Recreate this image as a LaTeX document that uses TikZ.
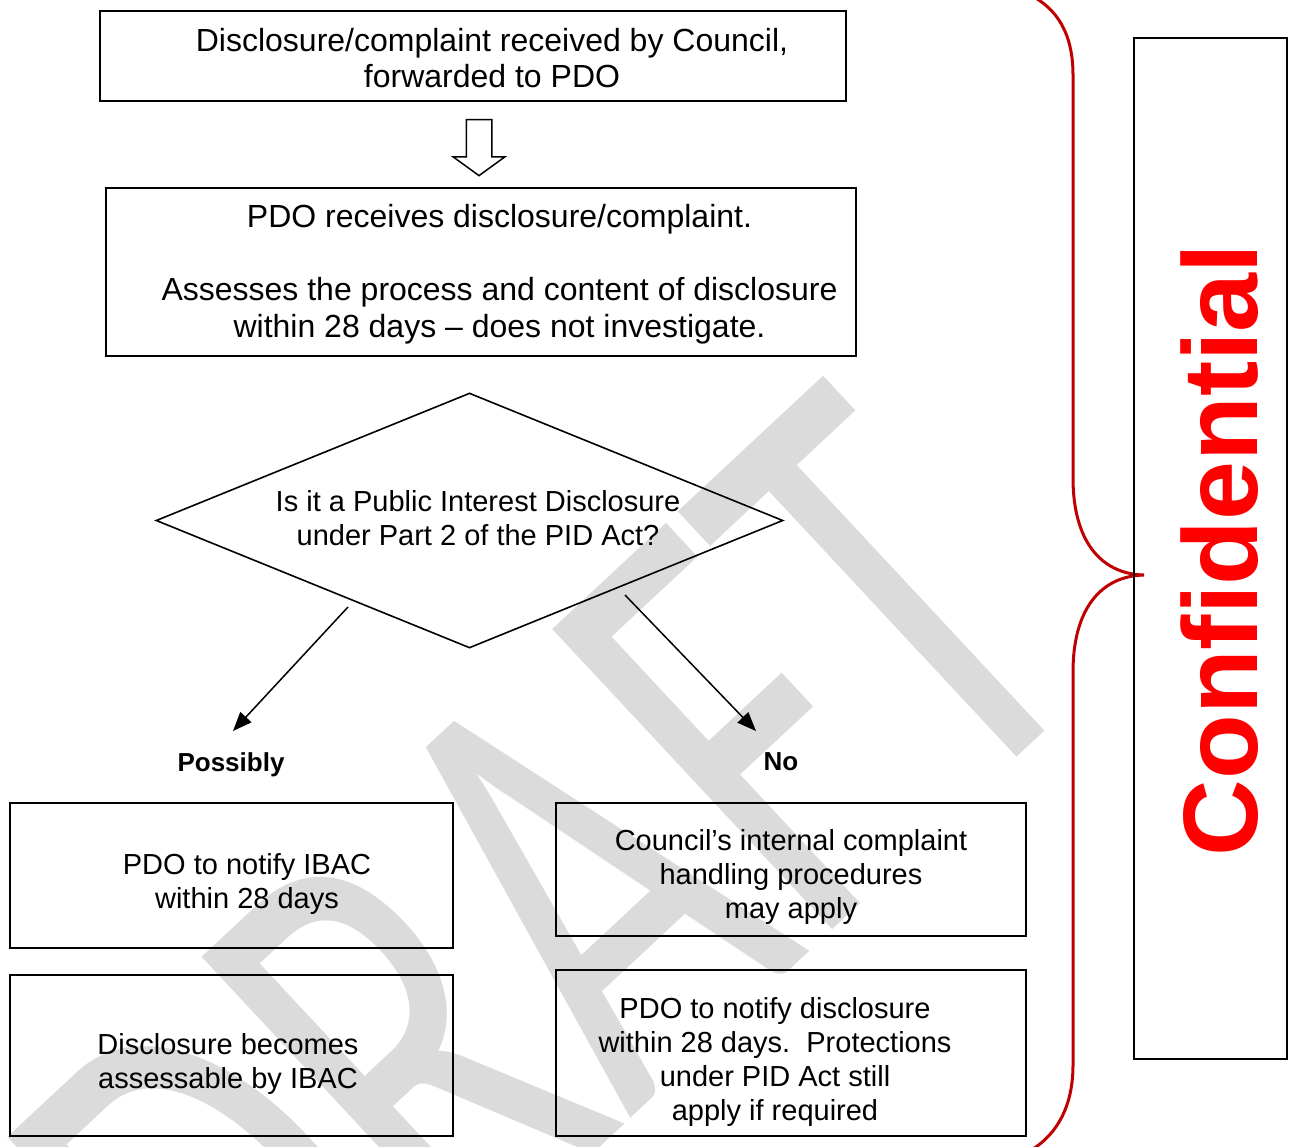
\documentclass[tikz,border=0pt]{standalone}
\usepackage{fontspec}
\setmainfont{Liberation Sans}
\newfontfamily\wmfont{Carlito}
\usepackage{graphicx}
\usetikzlibrary{shapes.geometric,shapes.arrows,arrows.meta}
\definecolor{wmgray}{RGB}{219,219,219}
\definecolor{bracered}{RGB}{192,0,0}
\definecolor{confred}{RGB}{255,0,0}
\begin{document}
\begin{tikzpicture}[x=1pt,y=-1pt,
  box/.style={draw=black,line width=2pt,inner sep=0pt},
  bigtxt/.style={align=center,font=\fontsize{32}{36.5}\selectfont,inner sep=0pt},
  smtxt/.style={align=center,font=\fontsize{29}{34.3}\selectfont,inner sep=0pt},
  lbl/.style={font=\fontsize{26}{30}\selectfont\bfseries,inner sep=0pt},
  conn/.style={line width=1.5pt,-{Triangle[length=19pt,width=15pt]}}]
\useasboundingbox (0,0) rectangle (1289,1146);

% watermark
\node[rotate=43,anchor=base east,inner sep=0pt,text=wmgray,
      font=\wmfont\fontsize{640}{640}\selectfont] (wmk) at (1108,673)
      {\scalebox{0.67}[1]{DRAFT}};

% boxes
\node[box,minimum width=746pt,minimum height=90pt] (b1) at (473,56) {};
\node[bigtxt] (t1) at (492,58) {Disclosure/complaint received by Council,\\forwarded to PDO};

\node[single arrow,draw,line width=1.5pt,rotate=-90,inner xsep=0pt,inner ysep=12pt,
      minimum height=56pt,minimum width=50pt,single arrow head extend=13pt,
      single arrow tip angle=108] (down) at (479,143) {};

\node[box,minimum width=750pt,minimum height=168pt] (b2) at (481,272) {};
\node[bigtxt] (t2) at (499.5,274) {PDO receives disclosure/complaint.\\[36.5pt]Assesses the process and content of disclosure\\within 28 days -- does not investigate.};

\node[diamond,draw,line width=1.6pt,inner sep=0pt,minimum width=627pt,minimum height=255pt] (dia) at (469.5,520.5) {};
\node[smtxt] (dt) at (478,518) {Is it a Public Interest Disclosure\\under Part 2 of the PID Act?};

\coordinate (s1) at (348,607);
\coordinate (e1) at (233,731);
\coordinate (s2) at (625,595);
\coordinate (e2) at (756,731);
\draw[conn] (s1) -- (e1);
\draw[conn] (s2) -- (e2);

\node[lbl] (poss) at (231,765) {Possibly};
\node[lbl] (no) at (781,762) {No};

\node[box,minimum width=443pt,minimum height=145pt] (b3) at (231.5,875.5) {};
\node[smtxt] (t3) at (247,884) {PDO to notify IBAC\\within 28 days};

\node[box,minimum width=470pt,minimum height=133pt] (b4) at (791,869.5) {};
\node[smtxt] (t4) at (791,877) {Council’s internal complaint\\handling procedures\\may apply};

\node[box,minimum width=443pt,minimum height=161pt] (b5) at (231.5,1055.5) {};
\node[smtxt] (t5) at (228,1064) {Disclosure becomes\\assessable by IBAC};

\node[box,minimum width=470pt,minimum height=166pt] (b6) at (791,1053) {};
\node[smtxt] (t6) at (775,1062) {PDO to notify disclosure\\within 28 days.\ \ Protections\\under PID Act still\\apply if required};

% brace
\draw[bracered,line width=3pt] (1028,-6) .. controls (1058,8) and (1073,35) .. (1073,75)
  -- (1073,478) .. controls (1073,540) and (1100,574) .. (1144,575)
  .. controls (1100,576) and (1073,610) .. (1073,672)
  -- (1073,1065) .. controls (1073,1105) and (1058,1135) .. (1028,1152);

% confidential box
\node[draw,line width=1.3pt,inner sep=0pt,minimum width=153pt,minimum height=1021pt] (cbox) at (1210.5,548.5) {};
\node[rotate=90,anchor=base,inner sep=0pt,text=confred,font=\fontsize{106}{106}\selectfont\bfseries] (ctext) at (1257,550) {Confidential};
\end{tikzpicture}
\end{document}
